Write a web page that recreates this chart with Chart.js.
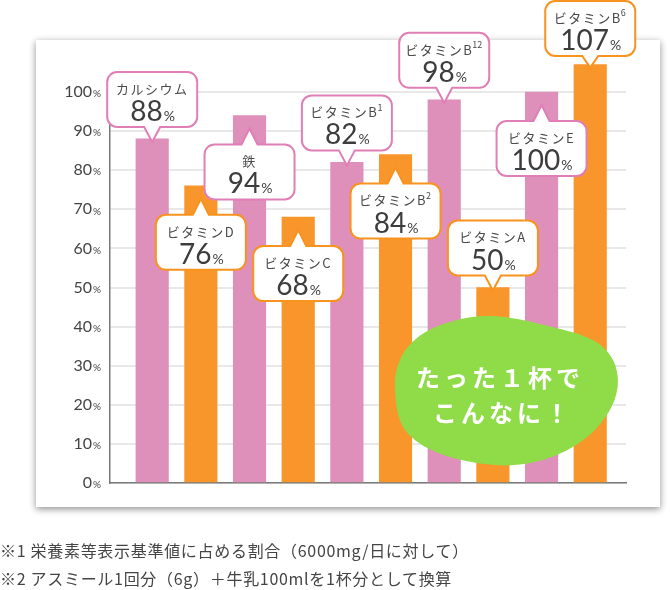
<!DOCTYPE html>
<html lang="ja">
<head>
<meta charset="utf-8">
<script src="https://cdn.jsdelivr.net/npm/chart.js@4"></script>
<style>
  html, body { margin: 0; padding: 0; background: #fff; }
  #wrap { position: relative; width: 670px; height: 590px; overflow: hidden; }
  #panel {
    position: absolute; left: 36px; top: 40px; width: 624px; height: 467px;
    background: #fff; box-shadow: 0 2px 7px rgba(0,0,0,0.45);
  }
  #myChart { position: absolute; left: 0; top: 0; }
  #blob { position: absolute; left: 0; top: 0; }
  .note {
    position: absolute; left: 0; font-family: "Noto Sans CJK JP", sans-serif;
    font-size: 16px; color: #444; letter-spacing: 0.7px; white-space: nowrap;
  }
</style>
</head>
<body>
<div id="wrap">
  <div id="panel"></div>
  <canvas id="myChart" width="670" height="590"></canvas>
  <svg id="blob" width="670" height="590">
    <path d="M 395 390 C 393 350, 420 330, 450 322 C 480 312, 510 316, 540 324 C 570 332, 602 335, 614 362
             C 624 386, 614 410, 595 430 C 570 455, 530 468, 495 465 C 455 462, 420 450, 405 430
             C 397 418, 396 405, 395 390 Z" fill="#8fdc48"/>
    <text x="500" y="387" text-anchor="middle" fill="#fff" font-family="'Noto Sans CJK JP', sans-serif"
          font-weight="700" font-size="24" letter-spacing="4">たった１杯で</text>
    <text x="503" y="422" text-anchor="middle" fill="#fff" font-family="'Noto Sans CJK JP', sans-serif"
          font-weight="700" font-size="24" letter-spacing="4">こんなに！</text>
  </svg>
  <div class="note" style="top:538px;">※1 栄養素等表示基準値に占める割合（6000mg/日に対して）</div>
  <div class="note" style="top:566px;">※2 アスミール1回分（6g）＋牛乳100mlを1杯分として換算</div>
</div>

<script>
// nutrients, in the order of the bars
const nutrients = ['カルシウム', 'ビタミンD', '鉄', 'ビタミンC', 'ビタミンB', 'ビタミンB', 'ビタミンB', 'ビタミンA', 'ビタミンE', 'ビタミンB'];
const superscripts = ['', '', '', '', '1', '2', '12', '', '', '6'];
const percents = [88, 76, 94, 68, 82, 84, 98, 50, 100, 107];
const yTicks = [0, 10, 20, 30, 40, 50, 60, 70, 80, 90, 100];

// which callouts hang under the top of their bar
const labelBelow = [false, true, true, true, false, true, false, false, true, false];

const PINK = '#de8fba';
const ORANGE = '#f8962b';
const PINK_LINE = '#e07fb5';
const ORANGE_LINE = '#f7931e';

function calloutPath(ctx, cx, top, w, h, r, tipY, below) {
    const left = cx - w / 2, right = cx + w / 2, bottom = top + h;
    ctx.beginPath();
    ctx.moveTo(left + r, top);
    if (below) {
        ctx.lineTo(cx - 8, top);
        ctx.lineTo(cx, tipY);
        ctx.lineTo(cx + 8, top);
    }
    ctx.lineTo(right - r, top);
    ctx.arcTo(right, top, right, top + r, r);
    ctx.lineTo(right, bottom - r);
    ctx.arcTo(right, bottom, right - r, bottom, r);
    if (!below) {
        ctx.lineTo(cx + 8, bottom);
        ctx.lineTo(cx, tipY);
        ctx.lineTo(cx - 8, bottom);
    }
    ctx.lineTo(left + r, bottom);
    ctx.arcTo(left, bottom, left, bottom - r, r);
    ctx.lineTo(left, top + r);
    ctx.arcTo(left, top, left + r, top, r);
    ctx.closePath();
}

const calloutPlugin = {
    id: 'callouts',
    afterDatasetsDraw(chart) {
        const ctx = chart.ctx;
        const bars = chart.getDatasetMeta(0).data;
        bars.forEach((bar, i) => {
            const cx = bar.x;
            const w = 90, h = 55;
            let tipY, top;
            if (labelBelow[i]) {
                tipY = bar.y + 13;
                top = tipY + 16;
            } else {
                tipY = bar.y + 3;
                top = Math.max(1, tipY - 15 - h);
            }
            ctx.save();
            calloutPath(ctx, cx, top, w, h, 10, tipY, labelBelow[i]);
            ctx.fillStyle = '#fff';
            ctx.fill();
            ctx.lineWidth = 2;
            ctx.strokeStyle = i % 2 ? ORANGE_LINE : PINK_LINE;
            ctx.stroke();

            // nutrient name, with superscript
            ctx.fillStyle = '#4a4a4a';
            ctx.textBaseline = 'middle';
            ctx.textAlign = 'left';
            ctx.font = '13px "Noto Sans CJK JP"';
            ctx.letterSpacing = '1.5px';
            const nameW = ctx.measureText(nutrients[i]).width;
            ctx.font = '9px "Noto Sans CJK JP"';
            ctx.letterSpacing = '0px';
            const supW = superscripts[i] ? ctx.measureText(superscripts[i]).width : 0;
            let x = cx - (nameW + supW) / 2;
            ctx.font = '13px "Noto Sans CJK JP"';
            ctx.letterSpacing = '1.5px';
            ctx.fillText(nutrients[i], x, top + 17);
            if (superscripts[i]) {
                ctx.font = '9px "Noto Sans CJK JP"';
                ctx.letterSpacing = '0px';
                ctx.fillText(superscripts[i], x + nameW - 1, top + 12);
            }

            // value with a small percent sign
            ctx.letterSpacing = '0px';
            ctx.fillStyle = '#3d3d3d';
            ctx.font = '28px Lato';
            const num = String(percents[i]);
            const numW = ctx.measureText(num).width;
            ctx.font = '14px Lato';
            const pctW = ctx.measureText('%').width;
            x = cx - (numW + pctW) / 2;
            ctx.font = '28px Lato';
            ctx.textBaseline = 'alphabetic';
            ctx.fillText(num, x, top + 49);
            ctx.font = '14px Lato';
            ctx.fillText('%', x + numW + 1, top + 49);
            ctx.restore();
        });
    },
    afterDraw(chart) {
        // y tick labels with a small percent sign
        const ctx = chart.ctx;
        const y = chart.scales.y;
        ctx.save();
        ctx.fillStyle = '#444';
        ctx.textBaseline = 'middle';
        y.ticks.forEach(t => {
            const py = y.getPixelForValue(t.value);
            ctx.font = '16px Lato';
            ctx.textAlign = 'right';
            ctx.fillText(String(t.value), 92, py);
            ctx.font = '10px Lato';
            ctx.textAlign = 'left';
            ctx.fillText('%', 93, py + 2);
        });
        ctx.restore();
    }
};

document.addEventListener("DOMContentLoaded", () => {
    const canvas = document.getElementById('myChart');
    const ctx = canvas.getContext('2d');

    const points = percents.map((v, i) => ({ x: i, y: v }));

    new Chart(ctx, {
        type: 'bar',
        data: {
            datasets: [{
                data: points,
                backgroundColor: percents.map((v, i) => i % 2 ? ORANGE : PINK),
                barThickness: 32.5,
                borderWidth: 0,
                clip: false
            }]
        },
        plugins: [calloutPlugin],
        options: {
            responsive: false,
            animation: false,
            layout: { padding: { top: 92, bottom: 107, left: 0, right: 44 } },
            plugins: {
                legend: { display: false },
                tooltip: { enabled: false }
            },
            scales: {
                x: {
                    type: 'linear',
                    offset: false,
                    min: -0.867,
                    max: 9.735,
                    grid: { display: false, offset: false },
                    ticks: { display: false },
                    border: { display: true, color: '#7a7a7a', width: 1.5 },
                    afterFit: s => { s.height = 0; }
                },
                y: {
                    min: 0,
                    max: 100,
                    afterBuildTicks: s => { s.ticks = yTicks.map(v => ({ value: v })); },
                    grid: { color: '#e8e8e8', lineWidth: 2, drawTicks: false },
                    border: { display: true, color: '#7a7a7a', width: 1.5 },
                    ticks: { display: false },
                    afterFit: s => { s.width = 110; }
                }
            }
        }
    });
});
</script>
</body>
</html>
